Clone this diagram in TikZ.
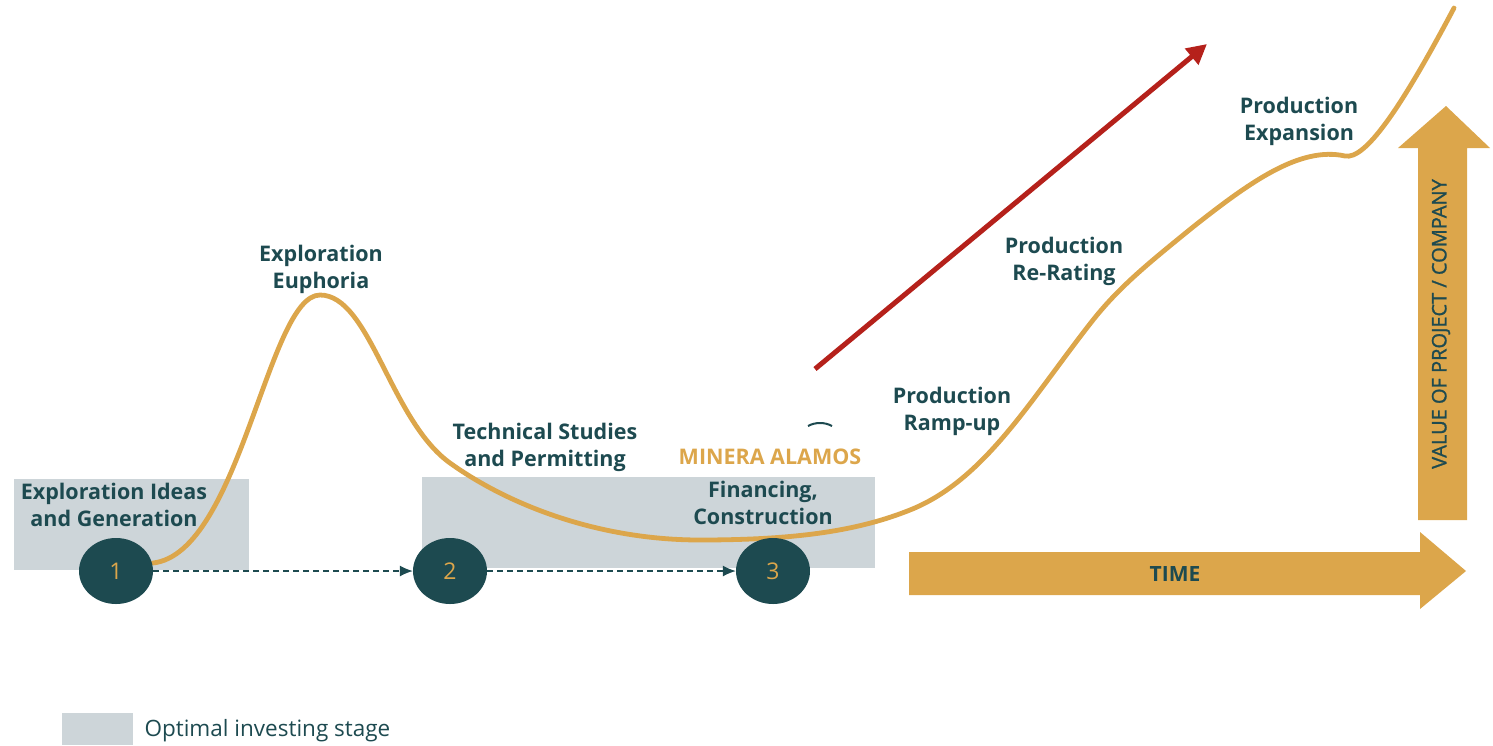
\documentclass[tikz,border=0pt]{standalone}
\usepackage{fontspec}
\setmainfont{Open Sans}
\newfontfamily\semifont[FakeBold=1.2]{Open Sans}
\usetikzlibrary{arrows.meta,shapes.geometric}

\definecolor{teal}{HTML}{1D4A50}
\definecolor{gold}{HTML}{DCA64B}
\definecolor{stagegray}{HTML}{CDD5D9}
\definecolor{darkred}{HTML}{B5211B}

\def\yDot{571}

\tikzset{
  label/.style={text=teal, align=center, font=\bfseries\fontsize{21.5}{27}\selectfont},
  stage/.style={ellipse, fill=teal, minimum width=74pt, minimum height=66pt, inner sep=0pt,
    text=gold, font=\fontsize{23}{24}\selectfont},
  flow/.style={-{Latex[length=13pt,width=11pt]}, dash pattern=on 6pt off 4pt, teal, line width=1.3pt}
}

\begin{document}
\begin{tikzpicture}[x=1pt, y=-1pt]
        \useasboundingbox (0,0) rectangle (1493,745);
        % optimal investing stages
        \fill[stagegray] (14,479) rectangle (249,570);
        \fill[stagegray] (422,477) rectangle (875,568);
        % value curve
        \draw[gold, line width=4.8pt, line cap=round] (153,563)
          .. controls (240,553) and (268,295) .. (320,295)
          .. controls (370,295) and (390,420) .. (450,463)
          .. controls (510,506) and (600,540) .. (700,540)
          .. controls (800,540) and (860,530) .. (910,510)
          .. controls (985,480) and (1030,400) .. (1093,320)
          .. controls (1120,286) and (1150,262) .. (1193,227)
          .. controls (1250,182) and (1300,146) .. (1345,156)
          .. controls (1365,160) and (1400,110) .. (1454,8);
        % stages
        \foreach \n/\x in {1/116,2/450,3/773} {
            \node[stage] (c\n) at (\x,\yDot) {\n};
        }
        \draw[flow] (c1) -- (c2);
        \draw[flow] (c2) -- (c3);
        % red trend
        \coordinate (redStart) at (815,369);
        \coordinate (redEnd) at (1207,44);
        \draw[darkred, line width=5pt, -{Triangle[length=20pt,width=20pt]}] (redStart) -- (redEnd);
        \draw[teal, line width=2pt] (808,426) .. controls (815,422) and (825,422) .. (832,426);
        % axes
        \fill[gold] (909,552) -- (1420,552) -- (1420,532) -- (1466,571) -- (1420,609)
          -- (1420,595) -- (909,595) -- cycle;
        \fill[gold] (1418,520) -- (1418,148) -- (1398,148) -- (1446,106) -- (1490,148)
          -- (1467,148) -- (1467,520) -- cycle;
        \node[text=teal, font=\bfseries\fontsize{21}{22}\selectfont] (time) at (1175,574) {TIME};
        \node[text=teal, rotate=90, font=\semifont\fontsize{20}{22}\selectfont] (value) at (1441,324)
          {VALUE OF PROJECT / COMPANY};
        % labels
        \node[label] (ideas) at (114,505) {Exploration Ideas\\and Generation};
        \node[label] (euphoria) at (321,269) {Exploration\\Euphoria};
        \node[label] (studies) at (545,447) {Technical Studies\\and Permitting};
        \node[label, text=gold] (minera) at (770,457) {MINERA ALAMOS};
        \node[label] (financing) at (763,503) {Financing,\\Construction};
        \node[label] (rampup) at (952,411) {Production\\Ramp-up};
        \node[label] (rerating) at (1064,261) {Production\\Re-Rating};
        \node[label] (expansion) at (1299,121) {Production\\Expansion};
        % legend
        \fill[stagegray] (62,713) rectangle (133,745);
        \node[text=teal, anchor=west, font=\fontsize{22.5}{24}\selectfont] (legend) at (141,731)
          {Optimal investing stage};
      \end{tikzpicture}
\end{document}
